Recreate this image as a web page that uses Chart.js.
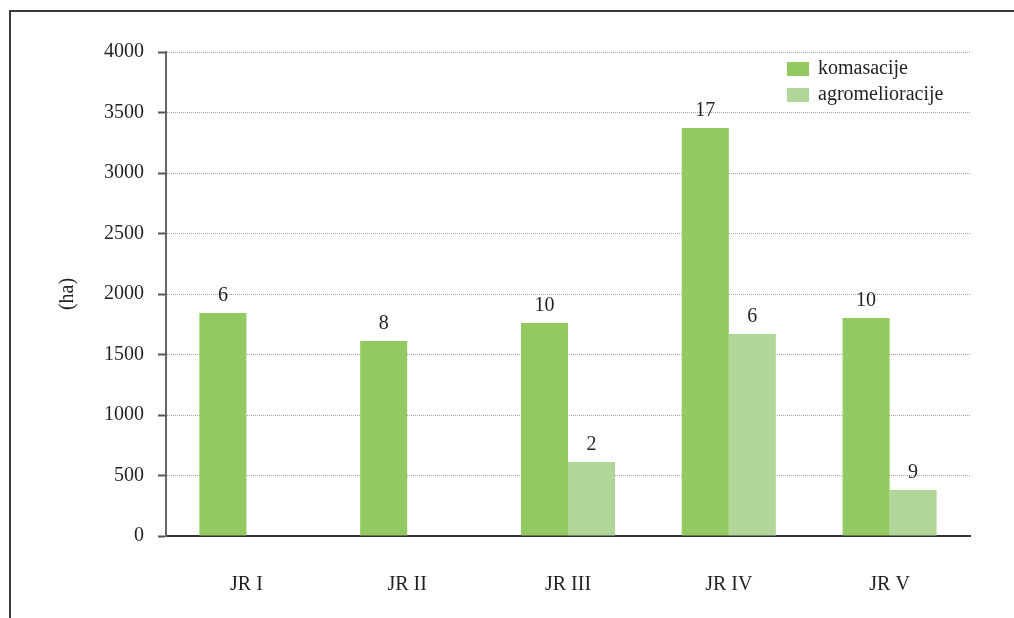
<!DOCTYPE html>
<html>
<head>
<meta charset="utf-8">
<script src="https://cdn.jsdelivr.net/npm/chart.js@4/dist/chart.umd.min.js"></script>
<style>
  html, body { margin: 0; padding: 0; background: #fff; }
  #wrap { width: 1014px; height: 618px; }
</style>
</head>
<body>
<div id="wrap"><canvas id="chart" width="1014" height="618"></canvas></div>
<script>
'use strict';
const regions = ['JR I', 'JR II', 'JR III', 'JR IV', 'JR V'];
const komasacijeHa = [1843, 1612, 1760, 3372, 1802];
const agroHa = [null, null, 612, 1669, 380];
// number of projects, printed above each bar
const komasacijeCount = [6, 8, 10, 17, 10];
const agroCount = [null, null, 2, 6, 9];
const yTicks = [0, 500, 1000, 1500, 2000, 2500, 3000, 3500, 4000];

const seriesNames = ['komasacije', 'agromelioracije'];
const darkGreen = '#92c961';
const lightGreen = '#b0d799';
const serif = '"Liberation Serif", "DejaVu Serif", serif';
const textColor = '#231f20';

Chart.defaults.font.family = serif;
Chart.defaults.font.size = 20;
Chart.defaults.color = textColor;

const extrasPlugin = {
  id: 'extras',
  beforeDraw(chart){
    const ctx = chart.ctx;
    ctx.save();
    ctx.fillStyle = '#fff';
    ctx.fillRect(0, 0, chart.width, chart.height);
    // outer frame: top and left edge
    ctx.strokeStyle = '#3a3a3a';
    ctx.lineWidth = 2;
    ctx.beginPath();
    ctx.moveTo(chart.width, 11);
    ctx.lineTo(10, 11);
    ctx.lineTo(10, chart.height);
    ctx.stroke();
    ctx.restore();
  },
  afterDatasetsDraw(chart){
    const ctx = chart.ctx;
    const counts = [komasacijeCount, agroCount];
    ctx.save();
    ctx.font = '20px ' + serif;
    ctx.fillStyle = textColor;
    ctx.textAlign = 'center';
    ctx.textBaseline = 'alphabetic';
    chart.data.datasets.forEach((ds, i) => {
      chart.getDatasetMeta(i).data.forEach((bar, j) => {
        if(counts[i][j] === null) return;
        ctx.fillText(String(counts[i][j]), bar.x, bar.y - 12);
      });
    });

    // legend in the top right corner
    const colors = [darkGreen, lightGreen];
    ctx.textAlign = 'left';
    ctx.textBaseline = 'middle';
    seriesNames.forEach((name, i) => {
      const y = 62 + i * 26;
      ctx.fillStyle = colors[i];
      ctx.fillRect(787, y, 22, 14);
      ctx.fillStyle = textColor;
      ctx.fillText(name, 818, y + 7);
    });
    ctx.restore();
  }
};

new Chart(document.getElementById('chart'), {
  type: 'bar',
  data: {
    labels: regions,
    datasets: [{
      label: seriesNames[0],
      data: komasacijeHa,
      backgroundColor: darkGreen,
      categoryPercentage: 0.585,
      barPercentage: 1
    },{
      label: seriesNames[1],
      data: agroHa,
      backgroundColor: lightGreen,
      categoryPercentage: 0.585,
      barPercentage: 1
    }]
  },
  options: {
    responsive: false,
    animation: false,
    layout: { padding: { left: 0, right: 44, top: 52, bottom: 0 } },
    plugins: {
      legend: { display: false },
      tooltip: { enabled: false }
    },
    scales: {
      x: {
        grid: { display: false, drawTicks: false },
        border: { display: true, color: '#333', width: 2 },
        ticks: { padding: 37, color: textColor },
        afterFit(scale){ scale.height = 82; }
      },
      y: {
        min: 0,
        max: 4000,
        afterBuildTicks(scale){ scale.ticks = yTicks.map(v => ({ value: v })); },
        grid: {
          color: '#a0a0a0',
          lineWidth: 1,
          tickLength: 8,
          tickColor: '#555',
          tickWidth: 2,
          tickBorderDash: []
        },
        border: { display: true, color: '#666', width: 2, dash: [1, 1] },
        ticks: {
          padding: 14,
          color: textColor,
          callback: value => String(value)
        },
        title: {
          display: true,
          text: '(ha)',
          color: textColor,
          padding: { top: 56, bottom: 0 }
        },
        afterFit(scale){ scale.width = 166; }
      }
    }
  },
  plugins: [extrasPlugin]
});
</script>
</body>
</html>
